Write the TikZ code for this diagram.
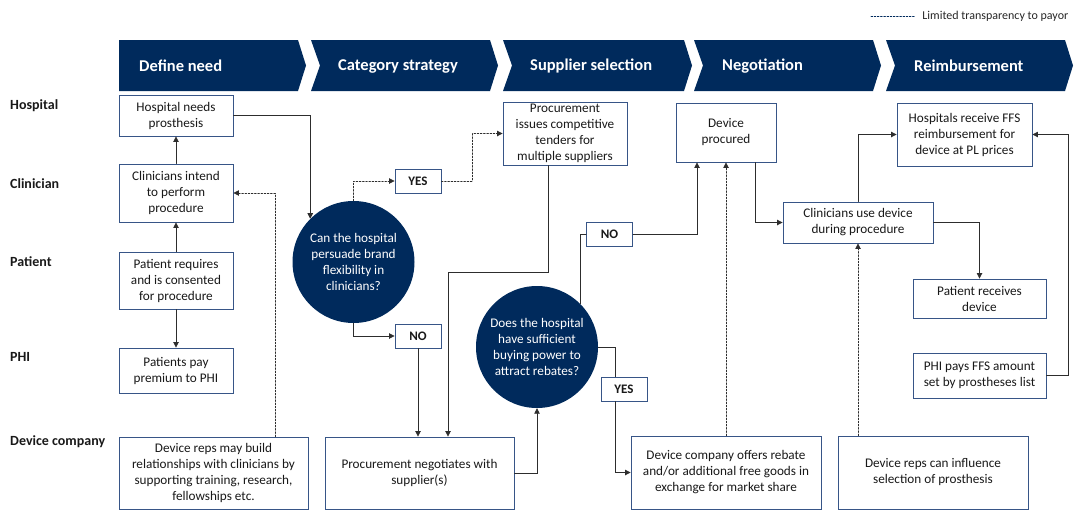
\documentclass[tikz,border=0pt]{standalone}
\usepackage{fontspec}
\setmainfont{Carlito}
\usetikzlibrary{arrows.meta}
\definecolor{navy}{RGB}{0,42,92}
\definecolor{boxline}{RGB}{55,85,135}
\definecolor{wire}{RGB}{45,45,45}

\begin{document}
\begin{tikzpicture}[x=1pt,y=-1pt,line cap=round,
  box/.style={draw=boxline,line width=0.9pt,fill=white,align=center,inner sep=0pt,text=black!90,font=\fontsize{13.2}{16}\selectfont},
  ask/.style={circle,fill=navy,minimum size=122pt,inner sep=0pt,align=center,text=white,font=\fontsize{13.2}{16}\selectfont},
  answer/.style={draw=boxline,line width=0.9pt,fill=white,minimum width=46pt,minimum height=24pt,inner sep=0pt,text=black!90,font=\bfseries\fontsize{13}{16}\selectfont},
  lanelabel/.style={anchor=west,inner sep=0pt,text=black!90,font=\bfseries\fontsize{14}{16}\selectfont},
  stage/.style={anchor=west,inner sep=0pt,text=white,font=\bfseries\fontsize{16.5}{18}\selectfont},
  wireline/.style={draw=wire,line width=0.8pt},
  arr/.style={wireline,-{Triangle[length=5.5pt,width=5.5pt]}},
  hint/.style={arr,dash pattern=on 1.6pt off 1.6pt}]
  \useasboundingbox (0,0) rectangle (1076,512);

  \draw[navy,line width=0.8pt,dash pattern=on 1.6pt off 1.6pt] (871,16) -- (915,16)
    node[right=7pt,inner sep=0pt,text=black!85,font=\fontsize{12}{14}\selectfont] {Limited transparency to payor};

  \foreach \l/\r/\n/\t/\lab in {119/298/0/139/Define need,311/490/9/338/Category strategy,
      503/684/9/530/Supplier selection,694/873/9/722/Negotiation,886/1065/9/914/Reimbursement}{
    \fill[navy] (\l,40) -- (\r,40) -- (\r+8,65.5) -- (\r,91) -- (\l,91) -- (\l+\n,65.5) -- cycle;
    \node[stage] at (\t,66) {\lab};
  }

  \foreach \y/\lab in {106/Hospital,184/Clinician,262/Patient,357/PHI,442/Device company}
    \node[lanelabel] at (10,\y) {\lab};

  \node[box,minimum width=114pt,minimum height=41pt] (hosp) at (176,115.5) {Hospital needs\\prosthesis};
  \node[box,minimum width=114pt,minimum height=58pt] (clin) at (176,193) {Clinicians intend\\to perform\\procedure};
  \node[box,minimum width=114pt,minimum height=57pt] (pat) at (176,280.5) {Patient requires\\and is consented\\for procedure};
  \node[box,minimum width=114pt,minimum height=45pt] (phi) at (176,370.5) {Patients pay\\premium to PHI};
  \node[box,minimum width=189pt,minimum height=72pt] (reps) at (213.5,473) {Device reps may build\\relationships with clinicians by\\supporting training, research,\\fellowships etc.};
  \node[box,minimum width=189pt,minimum height=72pt] (negot) at (419.5,473) {Procurement negotiates with\\supplier(s)};
  \node[box,minimum width=124pt,minimum height=63pt] (tender) at (565,133.5) {Procurement\\issues competitive\\tenders for\\multiple suppliers};
  \node[box,minimum width=100pt,minimum height=59pt] (proc) at (726,132.5) {Device\\procured};
  \node[box,minimum width=150pt,minimum height=41pt] (use) at (858,222.5) {Clinicians use device\\during procedure};
  \node[box,minimum width=135pt,minimum height=63pt] (ffs) at (964.5,134.5) {Hospitals receive FFS\\reimbursement for\\device at PL prices};
  \node[box,minimum width=133pt,minimum height=39pt] (recv) at (979.5,298.5) {Patient receives\\device};
  \node[box,minimum width=133pt,minimum height=45pt] (phipay) at (979.5,375.5) {PHI pays FFS amount\\set by prostheses list};
  \node[box,minimum width=190pt,minimum height=73pt] (offer) at (726,472.5) {Device company offers rebate\\and/or additional free goods in\\exchange for market share};
  \node[box,minimum width=190pt,minimum height=73pt] (sway) at (933,472.5) {Device reps can influence\\selection of prosthesis};

  \node[ask] (brand) at (353.5,262) {Can the hospital\\persuade brand\\flexibility in\\clinicians?};
  \node[ask] (power) at (537,347) {Does the hospital\\have sufficient\\buying power to\\attract rebates?};

  \node[answer] (yesa) at (418,181) {YES};
  \node[answer] (noa) at (418,336) {NO};
  \node[answer] (nob) at (609.5,234.5) {NO};
  \node[answer] (yesb) at (624,389) {YES};

  \draw[arr] (pat) -- (clin);
  \draw[arr] (clin) -- (hosp);
  \draw[arr] (pat) -- (phi);
  \draw[arr] (hosp.east) -| (brand.north west);
  \draw[hint] (brand.north) |- (yesa.west);
  \draw[hint] (yesa.east) -- ++(31,0) |- (tender.west);
  \draw[arr] (brand.south) |- (noa.west);
  \draw[arr] (noa.south) -- (noa.south |- negot.north);
  \coordinate (drop) at ([xshift=28.5pt]negot.north);
  \draw[arr] ([xshift=-17pt]tender.south) -- ++(0,107) -| (drop);
  \draw[hint] ([xshift=61.5pt]reps.north) |- (clin.east);
  \draw[arr] (negot.east) -| (power.south);
  \draw[wireline] (power.north east) |- (nob.west);
  \draw[arr] (nob.east) -| ([xshift=-29pt]proc.south);
  \draw[wireline] (power.east) -| ([xshift=-9pt]yesb.north);
  \draw[arr] ([xshift=-9pt]yesb.south) |- (offer.west);
  \draw[hint] (offer.north) -- (proc.south);
  \draw[arr] ([xshift=29pt]proc.south) |- (use.west);
  \draw[hint] (use.south |- sway.north) -- (use.south);
  \draw[arr] (use.north) |- (ffs.west);
  \draw[arr] (use.east) -| (recv.north);
  \draw[arr] (phipay.east) -- ++(22,0) |- (ffs.east);
\end{tikzpicture}
\end{document}
